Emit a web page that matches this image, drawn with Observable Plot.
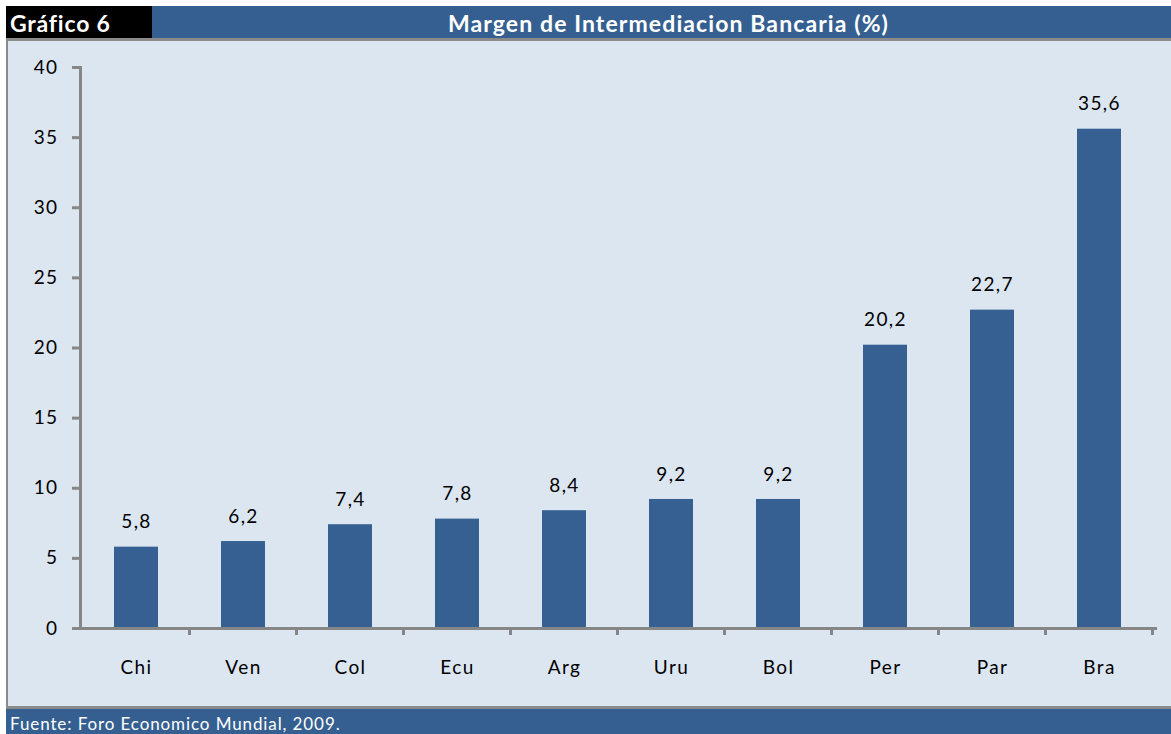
<!DOCTYPE html>
<html>
<head>
<meta charset="utf-8">
<script src="https://cdn.jsdelivr.net/npm/d3@7"></script>
<script src="https://cdn.jsdelivr.net/npm/@observablehq/plot@0.6"></script>
<style>
  html, body { margin: 0; padding: 0; background: #fff; }
  body { width: 1171px; height: 734px; position: relative; overflow: hidden; font-family: Lato, "Open Sans", sans-serif; }
  .abs { position: absolute; }
  #tag { left: 6px; top: 6px; width: 146px; height: 32px; background: #000; color: #fff; font-weight: bold; font-size: 23px; letter-spacing: 0.8px; line-height: 34px; padding-left: 4px; box-sizing: border-box; }
  #title { left: 152px; top: 6px; width: 1019px; height: 32px; background: #365F91; color: #fff; font-weight: bold; font-size: 23px; letter-spacing: 1.1px; line-height: 34px; text-align: center; padding-left: 14px; box-sizing: border-box; }
  #rule { left: 6px; top: 38px; width: 1165px; height: 3px; background: #8a8a8a; }
  #panel { left: 6px; top: 41px; width: 1165px; height: 668px; background: #DCE6F1; border-left: 2px solid #8a8a8a; border-bottom: 3px solid #8a8a8a; box-sizing: border-box; }
  #chart { left: 8px; top: 41px; }
  #footer { left: 6px; top: 709px; width: 1165px; height: 25px; background: #365F91; color: #fff; font-size: 17px; letter-spacing: 0.9px; line-height: 30px; padding-left: 4px; box-sizing: border-box; overflow: hidden; }
</style>
</head>
<body>
<div id="tag" class="abs">Gráfico 6</div>
<div id="title" class="abs">Margen de Intermediacion Bancaria (%)</div>
<div id="rule" class="abs"></div>
<div id="panel" class="abs"></div>
<div id="chart" class="abs"></div>
<div id="footer" class="abs">Fuente: Foro Economico Mundial, 2009.</div>
<script>
const countries = ["Chi", "Ven", "Col", "Ecu", "Arg", "Uru", "Bol", "Per", "Par", "Bra"];
const values = [5.8, 6.2, 7.4, 7.8, 8.4, 9.2, 9.2, 20.2, 22.7, 35.6];
const yTicks = [0, 5, 10, 15, 20, 25, 30, 35, 40];

const data = countries.map((c, i) => ({country: c, value: values[i]}));
const fmt = v => d3.format(".1f")(v).replace(".", ",");
const axisColor = "#868686";

function boundaryTicks(index, scales, values, dims) {
  const sx = scales.x, sy = scales.y;
  const n = countries.length;
  const step = typeof sx.step === "function" ? sx.step() : (dims.width - dims.marginLeft - dims.marginRight) / n;
  const bw = typeof sx.bandwidth === "function" ? sx.bandwidth() : 0;
  const y0 = sy(0);
  const g = d3.create("svg:g");
  for (let i = 1; i <= n; i++) {
    const x = sx(countries[i - 1]) + bw / 2 + step / 2;
    g.append("line").attr("x1", x).attr("x2", x).attr("y1", y0).attr("y2", y0 + 7)
      .attr("stroke", axisColor).attr("stroke-width", 3);
  }
  return g.node();
}

const chart = Plot.plot({
  width: 1163,
  height: 665,
  marginLeft: 72,
  marginRight: 16,
  marginTop: 26,
  marginBottom: 78,
  style: { background: "transparent", fontFamily: "Lato, 'Open Sans', sans-serif", fontSize: "19px", color: "#000", letterSpacing: "1.4px" },
  x: { domain: countries, paddingInner: 0.59, paddingOuter: 0.295, label: null },
  y: { domain: [0, 40], label: null },
  marks: [
    Plot.barY(data, { x: "country", y: "value", fill: "#366092" }),
    Plot.frame({ anchor: "left", stroke: axisColor, strokeWidth: 3 }),
    Plot.frame({ anchor: "bottom", stroke: axisColor, strokeWidth: 3 }),
    Plot.axisY({ ticks: yTicks, tickSize: 8, tickPadding: 14, stroke: axisColor, strokeWidth: 3, fontSize: 19, fill: "#000", label: null }),
    Plot.axisX({ tickSize: 0, tickPadding: 32, fontSize: 19, fill: "#000", label: null }),
    boundaryTicks,
    Plot.text(data, { x: "country", y: "value", text: d => fmt(d.value), dy: -25, fontSize: 19, fill: "#000" })
  ]
});
document.getElementById("chart").appendChild(chart);
</script>
</body>
</html>
